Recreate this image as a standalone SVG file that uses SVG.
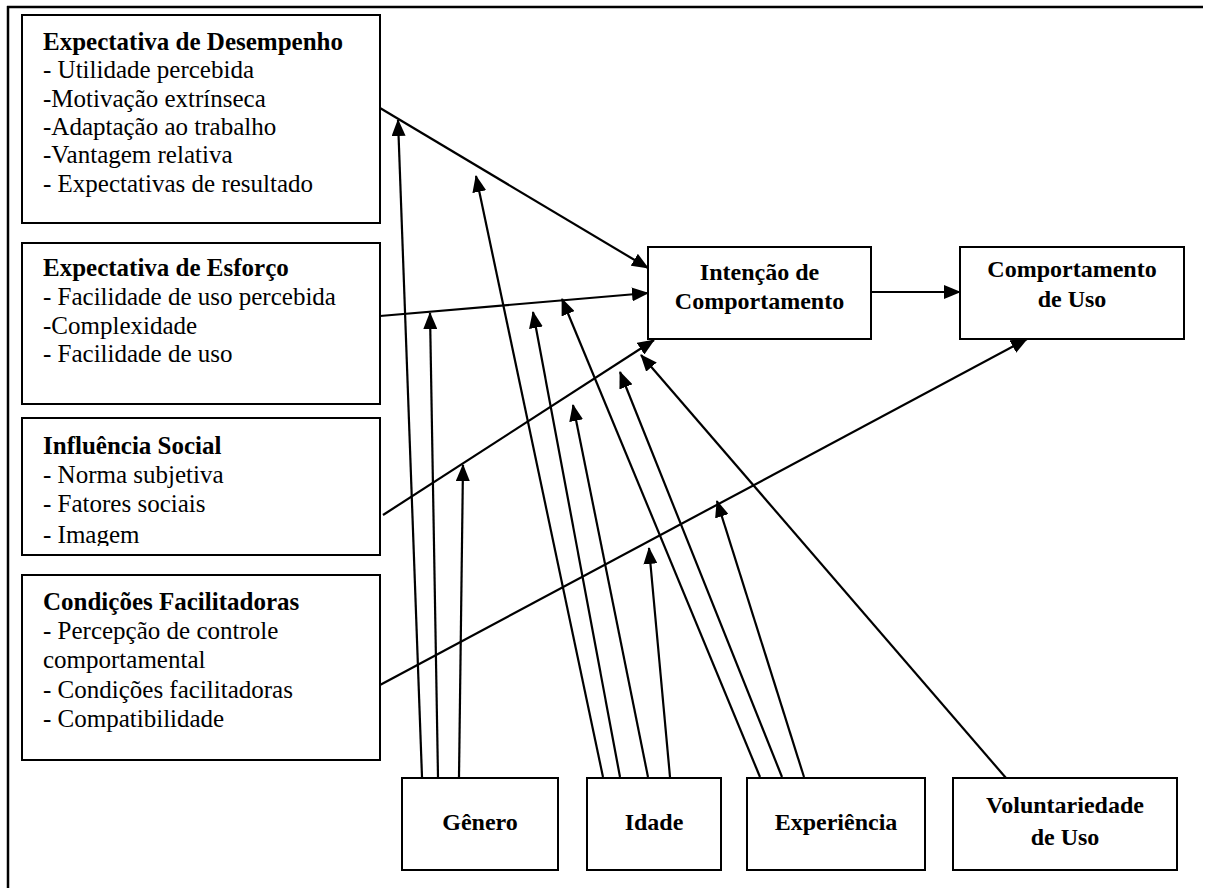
<svg xmlns="http://www.w3.org/2000/svg" width="1207" height="888" viewBox="0 0 1207 888">
  <style>
    .box { fill: #fff; stroke: #000; stroke-width: 2; }
    .frame { stroke: #000; stroke-width: 2.5; fill: none; }
    .t { font-family: "Liberation Serif", "Times New Roman", serif; font-size: 25px; fill: #000; }
    .h { font-weight: bold; }
    .c { font-family: "Liberation Serif", "Times New Roman", serif; font-size: 24px; font-weight: bold; fill: #000; text-anchor: middle; }
    .link { stroke: #000; stroke-width: 2.2; fill: none; marker-end: url(#arrow); }
  </style>
  <defs>
    <marker id="arrow" viewBox="0 0 17 14" refX="16" refY="7" markerWidth="17" markerHeight="14" markerUnits="userSpaceOnUse" orient="auto">
      <path d="M0,0 L17,7 L0,14 z" fill="#000"/>
    </marker>
    <clipPath id="clipSocial">
      <rect x="22" y="418" width="358" height="128"/>
    </clipPath>
  </defs>

  <rect width="1207" height="888" fill="#fff"/>

  <!-- page frame (top and left edges) -->
  <g id="frame">
    <line class="frame" x1="7" y1="7" x2="1203" y2="7"/>
    <line class="frame" x1="8" y1="6" x2="8" y2="888"/>
  </g>

  <!-- determinant constructs -->
  <g id="expectativa-desempenho">
    <rect class="box" x="22" y="15" width="358" height="208"/>
    <text class="t h" x="43" y="50">Expectativa de Desempenho</text>
    <text class="t" x="43" y="78">- Utilidade percebida</text>
    <text class="t" x="43" y="107">-Motivação extrínseca</text>
    <text class="t" x="43" y="135">-Adaptação ao trabalho</text>
    <text class="t" x="43" y="163">-Vantagem relativa</text>
    <text class="t" x="43" y="192">- Expectativas de resultado</text>
  </g>

  <g id="expectativa-esforco">
    <rect class="box" x="22" y="243" width="358" height="161"/>
    <text class="t h" x="43" y="276">Expectativa de Esforço</text>
    <text class="t" x="43" y="305">- Facilidade de uso percebida</text>
    <text class="t" x="43" y="334">-Complexidade</text>
    <text class="t" x="43" y="362">- Facilidade de uso</text>
  </g>

  <g id="influencia-social">
    <rect class="box" x="22" y="418" width="358" height="137"/>
    <g clip-path="url(#clipSocial)">
      <text class="t h" x="43" y="454">Influência Social</text>
      <text class="t" x="43" y="483">- Norma subjetiva</text>
      <text class="t" x="43" y="512">- Fatores sociais</text>
      <text class="t" x="43" y="543">- Imagem</text>
    </g>
  </g>

  <g id="condicoes-facilitadoras">
    <rect class="box" x="22" y="575" width="358" height="185"/>
    <text class="t h" x="43" y="610">Condições Facilitadoras</text>
    <text class="t" x="43" y="639">- Percepção de controle</text>
    <text class="t" x="43" y="668">comportamental</text>
    <text class="t" x="43" y="698">- Condições facilitadoras</text>
    <text class="t" x="43" y="727">- Compatibilidade</text>
  </g>

  <!-- outcomes -->
  <g id="intencao">
    <rect class="box" x="648" y="247" width="223" height="92"/>
    <text class="c" x="759.5" y="280">Intenção de</text>
    <text class="c" x="759.5" y="309">Comportamento</text>
  </g>

  <g id="comportamento-uso">
    <rect class="box" x="960" y="247" width="224" height="92"/>
    <text class="c" x="1072" y="277">Comportamento</text>
    <text class="c" x="1072" y="307">de Uso</text>
  </g>

  <!-- moderators -->
  <g id="genero">
    <rect class="box" x="402" y="778" width="156" height="92"/>
    <text class="c" x="480" y="830">Gênero</text>
  </g>

  <g id="idade">
    <rect class="box" x="587" y="778" width="134" height="92"/>
    <text class="c" x="654" y="830">Idade</text>
  </g>

  <g id="experiencia">
    <rect class="box" x="747" y="778" width="178" height="92"/>
    <text class="c" x="836" y="830">Experiência</text>
  </g>

  <g id="voluntariedade">
    <rect class="box" x="953" y="778" width="224" height="92"/>
    <text class="c" x="1065" y="813">Voluntariedade</text>
    <text class="c" x="1065" y="845">de Uso</text>
  </g>

  <!-- connectors -->
  <g id="connectors">
    <!-- main paths -->
    <line class="link" x1="380" y1="108" x2="648" y2="268"/>
    <line class="link" x1="380" y1="316" x2="648" y2="293"/>
    <line class="link" x1="383" y1="515" x2="654" y2="340"/>
    <line class="link" x1="380" y1="685" x2="1027" y2="339"/>
    <line class="link" x1="871" y1="292" x2="960" y2="292"/>

    <!-- gender moderation -->
    <line class="link" x1="422" y1="777" x2="398" y2="120"/>
    <line class="link" x1="438" y1="777" x2="430" y2="313"/>
    <line class="link" x1="459" y1="777" x2="463" y2="465"/>

    <!-- age moderation -->
    <line class="link" x1="603" y1="777" x2="476" y2="176"/>
    <line class="link" x1="620" y1="777" x2="533" y2="312"/>
    <line class="link" x1="648" y1="777" x2="573" y2="405"/>
    <line class="link" x1="670" y1="777" x2="649" y2="548"/>

    <!-- experience moderation -->
    <line class="link" x1="760" y1="777" x2="562" y2="299"/>
    <line class="link" x1="782" y1="777" x2="620" y2="372"/>
    <line class="link" x1="804" y1="777" x2="717" y2="501"/>

    <!-- voluntariness moderation -->
    <line class="link" x1="1006" y1="778" x2="641" y2="355"/>
  </g>
</svg>
